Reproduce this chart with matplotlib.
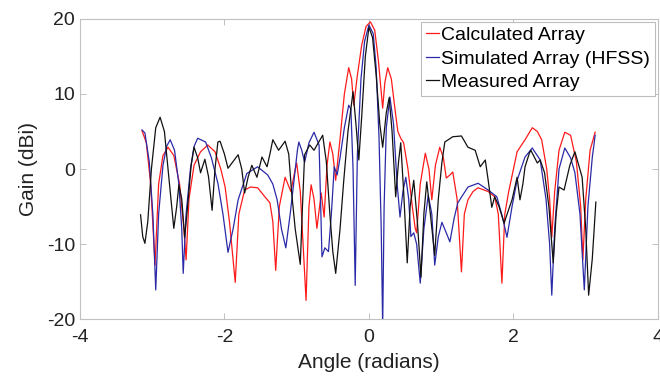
import numpy as np
import matplotlib.pyplot as plt

plt.rcParams['font.family'] = ['Liberation Sans', 'DejaVu Sans']
plt.rcParams['axes.unicode_minus'] = False

# Calculated array pattern (angle in radians, gain in dBi)
calc_x = [-3.14, -3.08, -3.02, -2.96, -2.91, -2.85, -2.78, -2.70, -2.62, -2.56, -2.53, -2.49,
          -2.42, -2.33, -2.23, -2.13, -2.05, -1.99, -1.93, -1.85, -1.80, -1.72, -1.64, -1.54,
          -1.44, -1.37, -1.33, -1.29, -1.24, -1.16, -1.08, -1.03, -1.00, -0.95, -0.87, -0.83,
          -0.80, -0.76, -0.72, -0.66, -0.62, -0.58, -0.54, -0.50, -0.46, -0.40, -0.34, -0.28,
          -0.24, -0.21, -0.16, -0.10, -0.04, 0.02, 0.08, 0.13, 0.19, 0.22, 0.26, 0.31, 0.36,
          0.40, 0.44, 0.48, 0.54, 0.60, 0.64, 0.66, 0.71, 0.78, 0.83, 0.87, 0.92, 0.98, 1.03,
          1.07, 1.12, 1.16, 1.22, 1.28, 1.32, 1.37, 1.44, 1.51, 1.65, 1.74, 1.79, 1.84, 1.88,
          1.93, 2.05, 2.16, 2.26, 2.33, 2.39, 2.46, 2.50, 2.53, 2.57, 2.63, 2.71, 2.79, 2.87,
          2.93, 2.96, 3.00, 3.06, 3.13]
calc_y = [5.1, 3.5, -2.0, -12.8, -2.0, 1.8, 2.9, 1.8, -2.0, -8.0, -12.1, -4.0,
          0.5, 2.3, 3.2, 2.3, 0.0, -2.4, -7.0, -15.1, -6.0, -2.8, -2.4, -2.5,
          -3.7, -4.5, -7.0, -13.5, -5.0, -1.1, -3.0, -0.5, 0.8, -3.0, -17.5, -5.0,
          -2.1, -4.0, -7.9, -3.2, -6.4, 0.5, 3.6, 2.0, -1.5, 4.0, 10.0, 13.5,
          12.0, 8.5, 12.5, 16.5, 19.0, 19.6, 18.5, 14.5, 8.1, 11.5, 13.5, 12.0, 8.0,
          5.0, 4.1, 3.5, 0.0, -5.0, -7.9, -8.5, -2.0, 2.1, 0.0, -4.1, 0.5, 2.9, 1.5,
          -1.2, -0.8, -0.4, -4.0, -13.7, -6.0, -4.1, -3.0, -2.5, -3.0, -3.7, -6.0, -15.2, -6.0,
          -3.2, 2.3, 3.9, 5.5, 5.0, 3.9, 0.0, -4.0, -9.1, -3.0, 2.5, 4.9, 4.5, 1.0,
          -5.0, -12.1, -4.0, 2.5, 4.9]

# Simulated array (HFSS)
sim_x = [-3.14, -3.10, -3.04, -2.99, -2.95, -2.91, -2.85, -2.80, -2.75, -2.69, -2.63, -2.59,
         -2.57, -2.53, -2.47, -2.42, -2.37, -2.26, -2.18, -2.09, -2.02, -1.95, -1.88, -1.81,
         -1.69, -1.54, -1.40, -1.33, -1.27, -1.21, -1.15, -1.09, -1.02, -0.99, -0.97, -0.93,
         -0.89, -0.83, -0.76, -0.69, -0.67, -0.65, -0.61, -0.56, -0.52, -0.48, -0.44, -0.40,
         -0.34, -0.28, -0.25, -0.22, -0.19, -0.16, -0.11, -0.06, 0.00, 0.06, 0.10, 0.14, 0.17,
         0.19, 0.21, 0.24, 0.29, 0.34, 0.39, 0.43, 0.47, 0.51, 0.55, 0.58, 0.62, 0.66, 0.71,
         0.76, 0.82, 0.87, 0.91, 0.96, 1.01, 1.07, 1.12, 1.18, 1.23, 1.37, 1.51, 1.65, 1.77,
         1.85, 1.91, 1.98, 2.05, 2.16, 2.26, 2.37, 2.45, 2.50, 2.53, 2.57, 2.63, 2.71, 2.79,
         2.85, 2.92, 2.98, 3.03, 3.09, 3.13]
sim_y = [5.2, 4.8, 1.0, -6.0, -16.1, -6.0, 0.5, 3.0, 3.9, 2.5, -2.0, -8.0,
         -13.9, -6.0, 0.0, 3.0, 4.1, 3.6, 1.5, -1.9, -6.0, -11.1, -8.0, -4.1,
         -0.6, 0.3, -0.8, -2.0, -4.1, -8.0, -10.5, -6.0, -0.1, 2.5, 3.6, 2.5,
         0.9, 3.5, 4.9, 3.2, -4.0, -11.7, -10.5, -11.0, -6.0, 0.3, -0.8, 1.5,
         5.5, 8.5, 8.0, 0.0, -15.5, 2.0, 12.0, 17.0, 19.2, 18.0, 13.5, 4.0, -8.0,
         -21.0, -5.0, 5.5, 9.6, 6.0, -2.0, -6.4, -3.0, -1.1, -4.0, -9.0, -8.5, -10.0, -15.2,
         -8.0, -3.5, -6.0, -12.8, -9.0, -7.1, -8.5, -9.7, -6.5, -4.5, -2.4, -1.9, -2.8, -3.7,
         -6.5, -9.1, -5.0, -1.5, 1.6, 2.8, 1.2, -4.0, -10.0, -16.8, -8.0, 0.0, 2.8, 1.5,
         -0.5, -6.0, -16.1, -5.0, 1.5, 4.5]

# Measured array
meas_x = [-3.16, -3.13, -3.10, -3.06, -3.01, -2.95, -2.89, -2.83, -2.77, -2.70, -2.66, -2.63,
          -2.59, -2.55, -2.50, -2.46, -2.42, -2.37, -2.33, -2.27, -2.22, -2.17, -2.13, -2.09,
          -2.06, -2.00, -1.95, -1.88, -1.81, -1.76, -1.72, -1.67, -1.62, -1.55, -1.48, -1.41,
          -1.37, -1.33, -1.25, -1.16, -1.11, -1.07, -1.02, -0.95, -0.92, -0.89, -0.82, -0.76,
          -0.70, -0.64, -0.59, -0.54, -0.50, -0.46, -0.40, -0.35, -0.29, -0.22, -0.18, -0.14,
          -0.10, -0.05, 0.00, 0.05, 0.10, 0.15, 0.19, 0.24, 0.28, 0.32, 0.37, 0.41, 0.44, 0.48,
          0.53, 0.57, 0.62, 0.67, 0.72, 0.76, 0.80, 0.85, 0.91, 0.96, 1.01, 1.05, 1.16, 1.28,
          1.37, 1.47, 1.54, 1.61, 1.65, 1.70, 1.74, 1.80, 1.87, 1.93, 1.98, 2.05, 2.09, 2.13,
          2.16, 2.22, 2.24, 2.33, 2.37, 2.43, 2.49, 2.55, 2.59, 2.63, 2.70, 2.78, 2.85, 2.95,
          3.00, 3.04, 3.09, 3.14]
meas_y = [-6.1, -9.0, -9.9, -7.0, 0.0, 5.5, 6.9, 5.0, -1.0, -7.9, -5.0, -2.1,
          -4.0, -9.1, -4.0, 0.5, 2.9, 1.5, -0.5, 1.3, -1.0, -5.5, 0.0, 3.6,
          3.7, 2.0, 0.1, 1.0, 1.9, 0.0, -3.2, -1.0, 0.5, -1.1, 1.6, 0.3,
          2.0, 3.9, 2.5, 3.7, 2.0, -3.1, -8.0, -12.7, -5.0, 1.9, 3.2, 2.5,
          3.5, 4.5, 1.0, -6.1, -11.0, -13.9, -8.0, -1.7, 5.0, 10.3, 6.0, 1.2,
          7.0, 15.0, 18.9, 17.5, 12.5, 6.0, 2.9, 7.5, 9.5, 5.0, -3.7, 1.0, 3.5, -3.0,
          -12.5, -5.0, -1.5, -7.0, -14.4, -6.0, -1.7, -6.0, -11.5, -4.0, 0.9, 3.6, 4.3, 4.4,
          2.9, 2.5, 0.3, 1.2, -1.5, -5.1, -3.7, -5.0, -7.2, -5.5, -4.1, -1.1, -4.1, -2.0,
          0.3, 2.1, 2.5, 0.8, 1.2, -0.5, -5.0, -12.5, -6.0, -2.4, -2.8, 0.5, 2.3, -1.1,
          -8.0, -16.8, -12.0, -4.4]

fig = plt.figure(figsize=(6.6, 3.85), dpi=100)
ax = fig.add_axes([0.121, 0.171, 0.876, 0.780])

ax.plot(calc_x, calc_y, color='#ff1a1a', lw=0.9, label='Calculated Array')
ax.plot(sim_x, sim_y, color='#2a2aa8', lw=0.9, label='Simulated Array (HFSS)')
ax.plot(meas_x, meas_y, color='#111111', lw=0.9, label='Measured Array')

ax.set_xlim(-4, 4)
ax.set_ylim(-20, 20)
ax.set_xticks([-4, -2, 0, 2, 4])
ax.set_yticks([-20, -10, 0, 10, 20])
ax.tick_params(direction='in', length=4, width=0.6, color='#b5b5b5',
               labelsize=14, labelcolor='#222222', top=True, right=True,
               labeltop=False, labelright=False)
ax.tick_params(axis='x', pad=7)
for s in ax.spines.values():
    s.set_color('#c0c0c0')
    s.set_linewidth(0.8)

ax.set_xlabel('Angle (radians)', fontsize=15, color='#222222', labelpad=5)
ax.set_ylabel('Gain (dBi)', fontsize=15, color='#222222', labelpad=6)

leg = ax.legend(loc='upper right', fontsize=14, handlelength=0.7, handletextpad=0.1,
                borderpad=0.25, labelspacing=0.3, borderaxespad=0.15, fancybox=False,
                framealpha=1)
leg.get_frame().set_edgecolor('#bdbdbd')
leg.get_frame().set_linewidth(0.8)

plt.savefig('out.png', dpi=100)
